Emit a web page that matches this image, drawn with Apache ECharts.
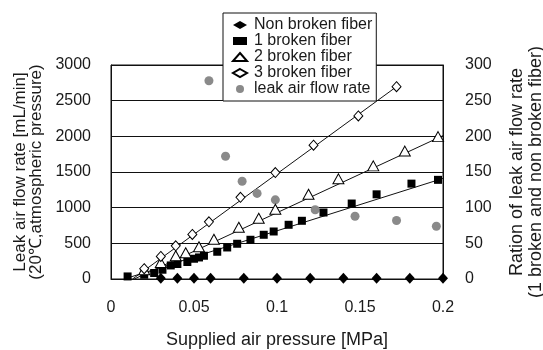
<!DOCTYPE html>
<html><head><meta charset="utf-8">
<script src="https://cdn.jsdelivr.net/npm/echarts@6/dist/echarts.min.js"></script>
<style>html,body{margin:0;padding:0;background:#fff}#c{width:543px;height:350px}</style>
</head><body><div id="c"></div>
<script>
// ---- data ----
const seriesNames = ["Non broken fiber", "1 broken fiber", "2 broken fiber", "3 broken fiber", "leak air flow rate"];
const xTickLabels = ["0", "0.05", "0.1", "0.15", "0.2"];
const leftTickLabels = ["0", "500", "1000", "1500", "2000", "2500", "3000"];
const rightTickLabels = ["0", "50", "100", "150", "200", "250", "300"];

const nonX = [0.03, 0.04, 0.05, 0.06, 0.08, 0.10, 0.12, 0.14, 0.16, 0.18, 0.20];
const nonY = [10, 10, 10, 10, 10, 10, 10, 10, 10, 10, 10];

const b1X = [0.010, 0.020, 0.026, 0.031, 0.036, 0.040, 0.046, 0.050, 0.053, 0.056, 0.064, 0.070, 0.076, 0.084, 0.092, 0.098, 0.107, 0.115, 0.128, 0.145, 0.160, 0.181, 0.197];
const b1Y = [36, 60, 84, 130, 190, 210, 238, 284, 302, 326, 382, 442, 494, 550, 620, 666, 760, 816, 932, 1058, 1187, 1337, 1390];

const b2X = [0.020, 0.030, 0.039, 0.045, 0.053, 0.062, 0.077, 0.089, 0.099, 0.119, 0.137, 0.158, 0.177, 0.197];
const b2Y = [130, 230, 326, 368, 452, 557, 725, 851, 977, 1187, 1404, 1586, 1793, 1996];

const b3X = [0.020, 0.030, 0.039, 0.049, 0.059, 0.078, 0.099, 0.122, 0.149, 0.172];
const b3Y = [144, 316, 466, 624, 802, 1145, 1492, 1876, 2286, 2696];

const leakX = [0.059, 0.069, 0.079, 0.088, 0.099, 0.123, 0.147, 0.172, 0.196];
const leakRatio = [278, 172, 137, 120, 111, 97, 88, 82, 74];

// trend lines (end points)
const trend1X = [0.008, 0.200], trend1Y = [0, 1410];
const trend2X = [0.014, 0.200], trend2Y = [0, 2010];
const trend3X = [0.013, 0.172], trend3Y = [0, 2696];

// ---- build ----
const zip = (xs, ys) => xs.map((x, i) => [x, ys[i]]);
const FONT = "Liberation Sans";
const TXT = "#1a1a1a";

const chart = echarts.init(document.getElementById('c'), null, {renderer: 'canvas'});
const trendStyle = {type: 'line', symbol: 'none', silent: true, lineStyle: {color: '#111', width: 1}, z: 2};

chart.setOption({
  animation: false,
  backgroundColor: '#fff',
  textStyle: {fontFamily: FONT, color: TXT},
  grid: {left: 111, right: 100, top: 65, bottom: 71, show: true, borderColor: '#111', borderWidth: 1,
    backgroundColor: 'transparent', containLabel: false, outerBoundsMode: 'none'},
  legend: {
    data: seriesNames,
    orient: 'vertical',
    left: 223, top: 13,
    padding: [4, 4, 4, 9],
    itemGap: 0,
    itemWidth: 14, itemHeight: 8,
    backgroundColor: '#fff',
    borderColor: '#111', borderWidth: 1,
    textStyle: {fontFamily: FONT, fontSize: 16, color: TXT, lineHeight: 15, padding: [0, 0, 0, 2]}
  },
  xAxis: {
    type: 'value', min: 0, max: 0.2, interval: 0.05,
    axisLine: {lineStyle: {color: '#111'}},
    axisTick: {show: false},
    splitLine: {show: false},
    axisLabel: {fontFamily: FONT, fontSize: 16, color: TXT, margin: 21,
      formatter: (v) => xTickLabels[Math.round(v / 0.05)]},
    name: 'Supplied air pressure [MPa]', nameLocation: 'middle', nameGap: 52,
    nameTextStyle: {fontFamily: FONT, fontSize: 18, color: TXT}
  },
  yAxis: [{
    type: 'value', min: 0, max: 3000, interval: 500,
    axisLine: {show: true, lineStyle: {color: '#111'}},
    axisTick: {show: false},
    splitLine: {show: true, lineStyle: {color: '#111', width: 1}},
    axisLabel: {fontFamily: FONT, fontSize: 16, color: TXT, margin: 20,
      formatter: (v) => leftTickLabels[Math.round(v / 500)]},
    name: 'Leak air flow rate [mL/min]\n(20℃,atmospheric pressure)', nameLocation: 'middle', nameGap: 66, nameRotate: 90,
    nameTextStyle: {fontFamily: FONT, fontSize: 17, color: TXT, lineHeight: 16}
  }, {
    type: 'value', min: 0, max: 300, interval: 50, position: 'right',
    axisLine: {show: true, lineStyle: {color: '#111'}},
    axisTick: {show: false},
    splitLine: {show: false},
    axisLabel: {fontFamily: FONT, fontSize: 16, color: TXT, margin: 22,
      formatter: (v) => rightTickLabels[Math.round(v / 50)]},
    name: 'Ration of leak air flow rate\n(1 broken and non broken fiber)', nameLocation: 'middle', nameGap: 65, nameRotate: 90,
    nameTextStyle: {fontFamily: FONT, fontSize: 18, color: TXT, lineHeight: 19}
  }],
  series: [
    Object.assign({name: 'trend1', data: zip(trend1X, trend1Y)}, trendStyle),
    Object.assign({name: 'trend2', data: zip(trend2X, trend2Y)}, trendStyle),
    Object.assign({name: 'trend3', data: zip(trend3X, trend3Y)}, trendStyle),
    {name: seriesNames[0], type: 'scatter', data: zip(nonX, nonY), symbol: 'diamond', symbolSize: [10, 11],
      itemStyle: {color: '#000', opacity: 1}, z: 5},
    {name: seriesNames[1], type: 'scatter', data: zip(b1X, b1Y), symbol: 'rect', symbolSize: 8,
      itemStyle: {color: '#000', opacity: 1}, z: 5},
    {name: seriesNames[2], type: 'scatter', data: zip(b2X, b2Y), symbol: 'triangle', symbolSize: [11, 10],
      itemStyle: {color: '#fff', borderColor: '#000', borderWidth: 1, opacity: 1}, z: 5},
    {name: seriesNames[3], type: 'scatter', data: zip(b3X, b3Y), symbol: 'diamond', symbolSize: [9, 10],
      itemStyle: {color: '#fff', borderColor: '#000', borderWidth: 1, opacity: 1}, z: 5},
    {name: seriesNames[4], type: 'scatter', yAxisIndex: 1, data: zip(leakX, leakRatio), symbol: 'circle', symbolSize: 9,
      itemStyle: {color: '#8a8a8a', opacity: 1}, z: 4}
  ]
});
</script></body></html>
